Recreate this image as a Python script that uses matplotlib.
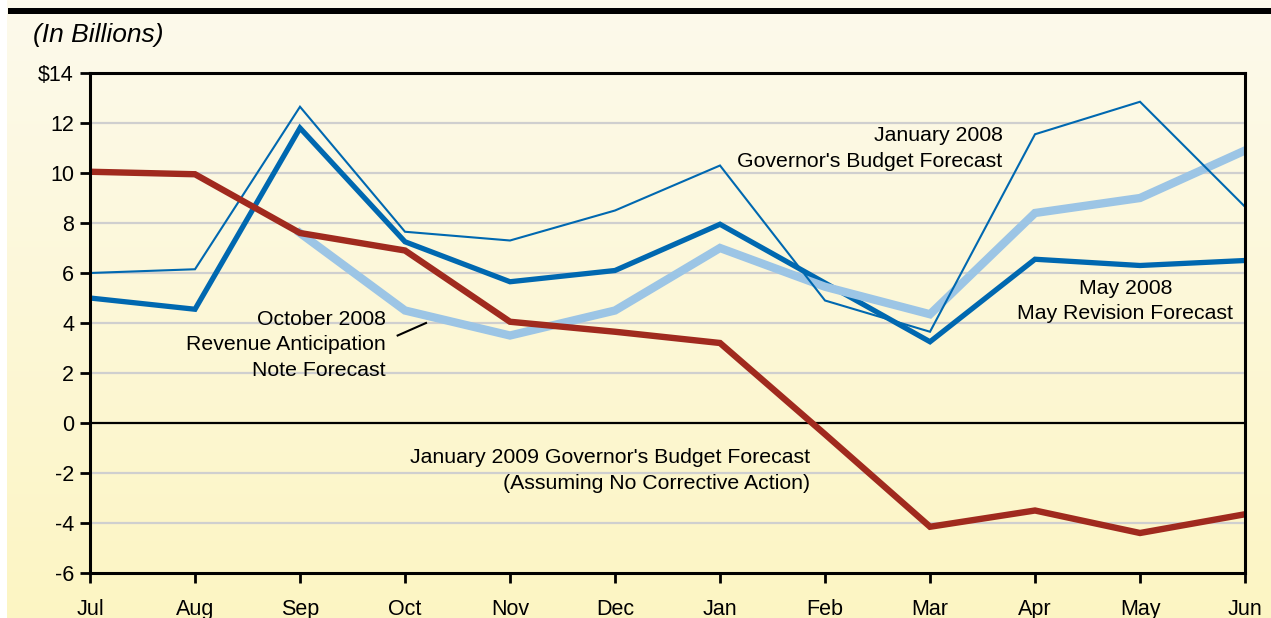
import numpy as np
import matplotlib
matplotlib.use("Agg")
import matplotlib.pyplot as plt

# ============== PLT Configuration ================
plt.rcParams.update(
    {
        "font.family": ["Liberation Sans", "DejaVu Sans"],
        "font.size": 15,
        "axes.linewidth": 2,
    }
)

# ============== Data ================
MONTHS = ["Jul", "Aug", "Sep", "Oct", "Nov", "Dec",
          "Jan", "Feb", "Mar", "Apr", "May", "Jun"]
NAN = np.nan
gov_jan_2008 = [6.0, 6.15, 12.65, 7.65, 7.3, 8.5, 10.3, 4.9, 3.65, 11.55, 12.85, 8.65]
may_rev_2008 = [5.0, 4.55, 11.8, 7.25, 5.65, 6.1, 7.95, 5.6, 3.25, 6.55, 6.3, 6.5]
ran_oct_2008 = [NAN, NAN, 7.6, 4.5, 3.5, 4.5, 7.0, 5.45, 4.35, 8.4, 9.0, 10.9]
gov_jan_2009 = [10.05, 9.95, 7.6, 6.9, 4.05, 3.65, 3.2, -0.45, -4.15, -3.5, -4.4, -3.65]
Y_TICKS = [-6, -4, -2, 0, 2, 4, 6, 8, 10, 12, 14]
Y_LABELS = ["-6", "-4", "-2", "0", "2", "4", "6", "8", "10", "12", "$14"]

DARK_BLUE = "#0068b0"
LIGHT_BLUE = "#9cc5e5"
RED = "#a02a1e"

# ============== Figure ================
top_c = np.array([253, 250, 236]) / 255.0
bot_c = np.array([252, 245, 195]) / 255.0
fig = plt.figure(figsize=(12.71, 6.18), dpi=100, facecolor=bot_c)

# background gradient (cream at top to pale yellow at bottom)
bg = fig.add_axes([0, 0, 1, 1], zorder=-10)
t = np.linspace(0, 1, 256)[:, None]
grad = top_c[None, :] * (1 - t) + bot_c[None, :] * t
bg.imshow(grad[:, None, :], aspect="auto", extent=[0, 1, 0, 1])
bg.axvspan(0, 7 / 1271, color="white", lw=0)
bg.axhspan(1 - 14 / 618, 1 - 8 / 618, xmin=8 / 1271, xmax=1, color="black", lw=0)
bg.set_xlim(0, 1)
bg.set_ylim(0, 1)
bg.axis("off")

ax = fig.add_axes([90 / 1271, 1 - 573 / 618, (1245 - 90) / 1271, (573 - 73) / 618])
ax.set_facecolor("none")
x = np.arange(len(MONTHS))

for v in Y_TICKS[1:-1]:
    if v == 0:
        ax.axhline(v, color="black", lw=1.6, zorder=1)
    else:
        ax.axhline(v, color="#cfcfcf", lw=1.6, zorder=1)

ax.plot(x, may_rev_2008, color=DARK_BLUE, lw=3.8, zorder=3, solid_joinstyle="miter")
ax.plot(x, ran_oct_2008, color=LIGHT_BLUE, lw=6, zorder=4, solid_joinstyle="miter")
ax.plot(x, gov_jan_2008, color=DARK_BLUE, lw=1.5, zorder=5, solid_joinstyle="miter")
ax.plot(x, gov_jan_2009, color=RED, lw=4.6, zorder=6, solid_joinstyle="miter")

ax.set_xlim(0, len(MONTHS) - 1)
ax.set_ylim(-6, 14)
ax.set_xticks(x)
ax.set_xticklabels(MONTHS)
ax.set_yticks(Y_TICKS)
ax.set_yticklabels(Y_LABELS)
ax.tick_params(axis="x", direction="out", length=7.5, width=2, pad=11, labelsize=15.5)
ax.tick_params(axis="y", direction="out", length=7.5, width=2, pad=4, labelsize=15.5)
for s in ax.spines.values():
    s.set_linewidth(2.2)
    s.set_zorder(10)

# ============== Annotations ================
txt = dict(fontsize=15.3, color="black", linespacing=1.45, zorder=8)
ax.text(8.69, 10.98, "January 2008\nGovernor's Budget Forecast", ha="right", va="center", **txt)
ax.text(9.86, 4.88, "May 2008\nMay Revision Forecast", ha="center", va="center", **txt)
ax.text(2.82, 3.12, "October 2008\nRevenue Anticipation\nNote Forecast", ha="right", va="center", **txt)
ax.text(6.86, -1.9, "January 2009 Governor's Budget Forecast\n(Assuming No Corrective Action)",
        ha="right", va="center", **txt)
ax.plot([2.93, 3.2], [3.5, 4.0], color="black", lw=1.5, zorder=8)

fig.text(33 / 1271, 1 - 35 / 618, "(In Billions)", fontsize=19, style="italic",
         ha="left", va="center")

fig.savefig("out.png", dpi=100, facecolor=fig.get_facecolor())
